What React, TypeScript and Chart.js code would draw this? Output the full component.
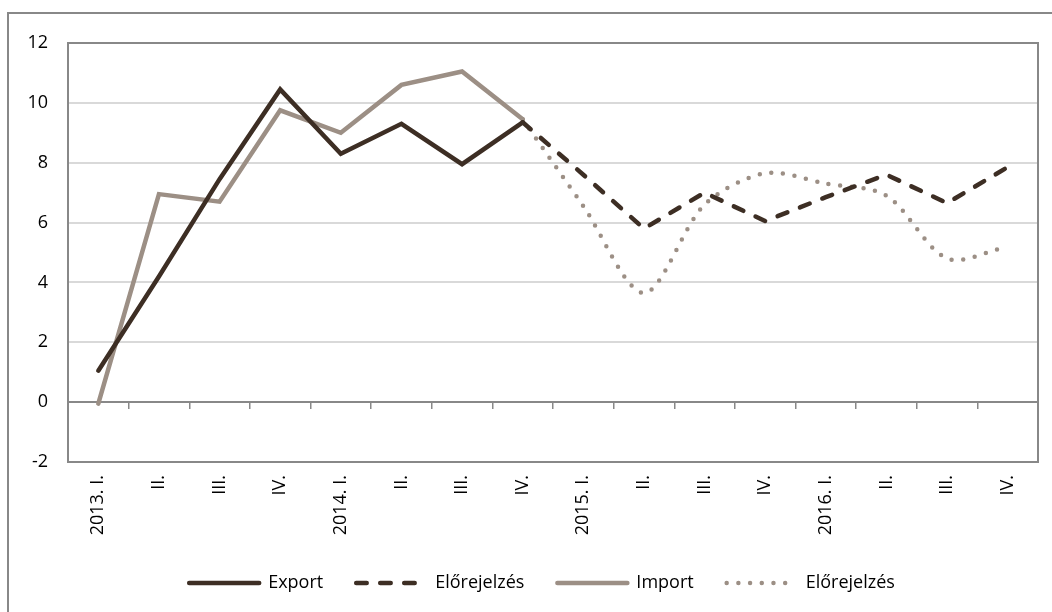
import { useEffect, useRef } from 'react';
import { Chart, registerables } from 'chart.js';

Chart.register(...registerables);

// Quarterly categories, 2013–2016
const QUARTER_LABELS = [
  '2013. I.', 'II.', 'III.', 'IV.',
  '2014. I.', 'II.', 'III.', 'IV.',
  '2015. I.', 'II.', 'III.', 'IV.',
  '2016. I.', 'II.', 'III.', 'IV.',
];

// Actual growth, 2013 I. – 2014 IV.
const EXPORT_ACTUAL = [1.05, 4.2, 7.45, 10.45, 8.3, 9.3, 7.95, 9.35];
const IMPORT_ACTUAL = [-0.05, 6.95, 6.7, 9.75, 9.0, 10.6, 11.05, 9.45];

// Forecast, 2015 I. – 2016 IV.
const EXPORT_FORECAST = [7.6, 5.8, 7.0, 6.05, 6.85, 7.6, 6.65, 7.85];
const IMPORT_FORECAST = [6.55, 3.65, 6.6, 7.65, 7.3, 6.9, 4.8, 5.2];

const Y_MIN = -2;
const Y_MAX = 12;
const Y_STEP = 2;

const DARK = '#3d2e24';
const LIGHT = '#9c8f85';
const FONT = "'Open Sans', sans-serif";
const LEGEND_LEFT = 46;

// Actual values followed by empty forecast slots
const actualSeries = (actual: number[]) => [
  ...actual,
  ...QUARTER_LABELS.slice(actual.length).map(() => null),
];

// Forecast starts from the last actual value so the lines join
const forecastSeries = (actual: number[], forecast: number[]) => [
  ...actual.slice(0, -1).map(() => null),
  actual[actual.length - 1],
  ...forecast,
];

// Grey frame round the plot area; legend row centred slightly left of the plot
const plotFrame = {
  id: 'plotFrame',
  beforeDraw(chart: any) {
    if (chart.legend) chart.legend.left = LEGEND_LEFT;
  },
  beforeDatasetsDraw(chart: Chart) {
    const { ctx, chartArea } = chart;
    ctx.save();
    ctx.strokeStyle = '#888888';
    ctx.lineWidth = 2;
    ctx.strokeRect(
      chartArea.left,
      chartArea.top,
      chartArea.right - chartArea.left,
      chartArea.bottom - chartArea.top,
    );
    ctx.restore();
  },
};

export default function App() {
  const canvasRef = useRef<HTMLCanvasElement>(null);

  useEffect(() => {
    const canvas = canvasRef.current;
    if (!canvas) return;

    const chart = new Chart(canvas, {
      type: 'line',
      data: {
        labels: QUARTER_LABELS,
        datasets: [
          {
            label: 'Export',
            data: actualSeries(EXPORT_ACTUAL),
            borderColor: DARK,
            backgroundColor: DARK,
            borderWidth: 4.5,
            borderCapStyle: 'round',
            borderJoinStyle: 'miter',
            pointRadius: 0,
            pointHoverRadius: 0,
            tension: 0,
          },
          {
            label: 'Előrejelzés',
            data: forecastSeries(EXPORT_ACTUAL, EXPORT_FORECAST),
            borderColor: DARK,
            backgroundColor: DARK,
            borderWidth: 4.5,
            borderDash: [10.5, 13.5],
            borderCapStyle: 'round',
            borderJoinStyle: 'miter',
            pointRadius: 0,
            pointHoverRadius: 0,
            tension: 0,
          },
          {
            label: 'Import',
            data: actualSeries(IMPORT_ACTUAL),
            borderColor: LIGHT,
            backgroundColor: LIGHT,
            borderWidth: 4.5,
            borderCapStyle: 'round',
            borderJoinStyle: 'miter',
            pointRadius: 0,
            pointHoverRadius: 0,
            tension: 0,
          },
          {
            label: 'Előrejelzés',
            data: forecastSeries(IMPORT_ACTUAL, IMPORT_FORECAST),
            borderColor: LIGHT,
            backgroundColor: LIGHT,
            borderWidth: 4.5,
            borderDash: [0, 11.7],
            borderCapStyle: 'round',
            pointRadius: 0,
            pointHoverRadius: 0,
            tension: 0.3,
          },
        ],
      },
      options: {
        responsive: false,
        animation: false,
        devicePixelRatio: 1,
        events: [],
        layout: {
          padding: { left: 0, right: 14, top: 43, bottom: 10 },
        },
        font: { family: FONT, size: 18 },
        scales: {
          x: {
            type: 'category',
            offset: true,
            grid: { display: false, drawTicks: false },
            border: { display: false },
            ticks: {
              autoSkip: false,
              minRotation: 90,
              maxRotation: 90,
              padding: 13,
              color: '#000',
              font: { family: FONT, size: 18 },
            },
            afterFit(scale: any) {
              scale.height = 79;
            },
          },
          // Horizontal axis line at zero with tick marks between quarters
          x2: {
            type: 'category',
            position: { y: 0 } as any,
            offset: true,
            grid: {
              offset: true,
              drawOnChartArea: false,
              drawTicks: true,
              tickLength: 6,
              color: '#888888',
              lineWidth: 1.5,
            },
            border: { display: true, color: '#888888', width: 2 },
            ticks: { display: false },
          },
          y: {
            min: Y_MIN,
            max: Y_MAX,
            ticks: {
              stepSize: Y_STEP,
              padding: 20,
              color: '#000',
              font: { family: FONT, size: 18 },
            },
            grid: {
              drawTicks: false,
              lineWidth: 2,
              color: (ctx: any) =>
                ctx.tick && ctx.tick.value === 0 ? 'rgba(0,0,0,0)' : '#d9d9d9',
            },
            border: { display: false },
            afterFit(scale: any) {
              scale.width = 68;
            },
          },
        },
        plugins: {
          tooltip: { enabled: false },
          title: { display: false },
          legend: {
            display: true,
            position: 'bottom',
            labels: {
              usePointStyle: true,
              pointStyle: 'line',
              pointStyleWidth: 70,
              boxWidth: 70,
              padding: 33,
              color: '#000',
              font: { family: FONT, size: 18 },
              // Legend samples carry each dataset's own line width, dash and cap
              generateLabels: (c: any) =>
                c.data.datasets.map((ds: any, i: number) => ({
                  text: ds.label,
                  datasetIndex: i,
                  hidden: false,
                  fillStyle: ds.borderColor,
                  strokeStyle: ds.borderColor,
                  lineWidth: ds.borderWidth,
                  lineDash: ds.borderDash || [],
                  lineDashOffset: 0,
                  lineCap: ds.borderCapStyle,
                  lineJoin: 'miter',
                  pointStyle: 'line',
                  rotation: 0,
                  fontColor: '#000',
                })),
            },
          },
        },
      },
      plugins: [plotFrame],
    } as any);

    return () => chart.destroy();
  }, []);

  return (
    <div
      style={{
        position: 'fixed',
        left: 0,
        top: 0,
        width: 1052,
        height: 612,
        background: '#ffffff',
        overflow: 'hidden',
      }}
    >
      <div
        style={{
          position: 'absolute',
          left: 7,
          top: 12,
          width: 1100,
          height: 700,
          borderLeft: '2px solid #888888',
          borderTop: '2px solid #888888',
        }}
      />
      <canvas
        ref={canvasRef}
        width={1052}
        height={612}
        style={{ position: 'absolute', left: 0, top: 0, width: 1052, height: 612 }}
      />
    </div>
  );
}
